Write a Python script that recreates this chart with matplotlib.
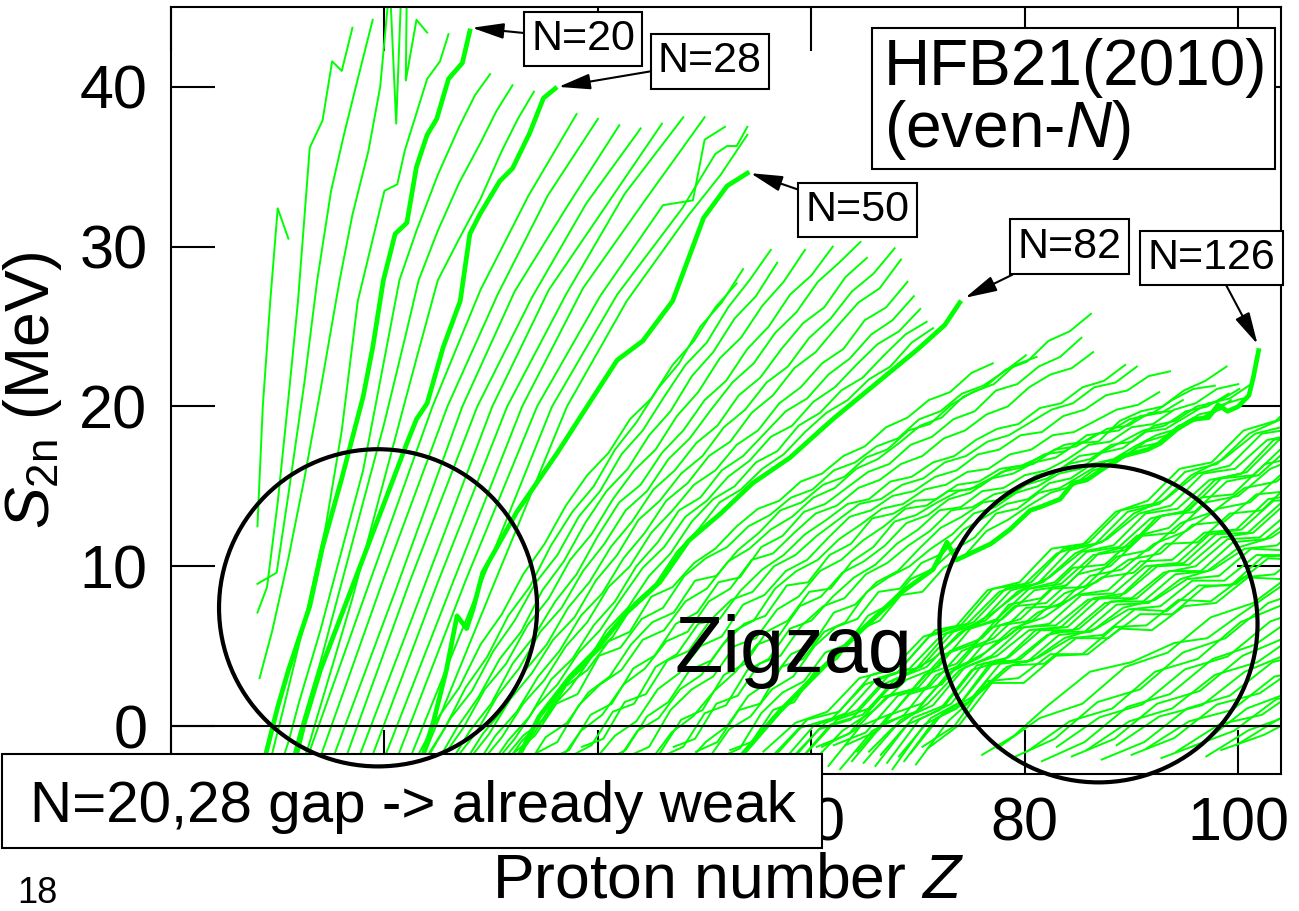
import matplotlib
matplotlib.use("Agg")
import matplotlib.pyplot as plt
from matplotlib.patches import Ellipse, Rectangle

plt.rcParams["font.family"] = ["Liberation Sans", "DejaVu Sans"]
plt.rcParams["mathtext.fontset"] = "custom"
plt.rcParams["mathtext.rm"] = "Liberation Sans"
plt.rcParams["mathtext.it"] = "Liberation Sans:italic"

# S2n (MeV) against Z along even-N isotone chains, HFB21 (2010) mass table.
# Light chains are kept as (Z, S2n) vertices.
chains_n10_18 = [
    [(8.1, 12.5), (8.6, 20.0), (9.3, 26.6), (10.0, 32.4), (11.0, 30.5)],
    [(8.1, 7.1), (9.0, 8.7), (10.0, 14.0), (11.0, 20.5), (11.9, 26.6), (13.0, 36.2),
     (14.2, 37.9), (15.1, 41.6), (16.0, 41.0), (17.0, 43.7)],
    [(8.1, 8.9), (9.9, 9.6), (11.0, 14.5), (12.5, 21.5), (13.7, 27.9), (15.0, 33.5),
     (16.2, 37.0), (17.5, 40.5), (18.9, 44.2)],
    [(8.3, 3.0), (9.5, 6.0), (11.0, 10.5), (12.5, 15.5), (14.0, 21.0), (15.8, 27.9),
     (17.0, 32.0), (18.5, 36.0), (19.6, 40.0), (20.5, 46.5), (21.1, 37.7), (21.6, 46.5),
     (22.1, 46.5), (22.0, 40.4), (23.0, 44.2), (24.0, 43.4)],
    [(9.0, -3.0), (10.5, 1.0), (12.5, 6.5), (14.5, 12.5), (16.0, 18.5), (17.5, 26.6),
     (20.0, 33.5), (21.2, 33.9), (21.9, 36.0), (24.0, 40.5), (25.2, 41.6), (26.0, 43.3)],
]

n20 = [(8.6, -2.5), (10.0, 1.2), (11.0, 3.5), (12.0, 5.5), (13.0, 7.5), (14.2, 11.2),
       (16.0, 15.5), (18.0, 20.6), (18.9, 23.7), (19.9, 27.9), (21.0, 30.8), (22.1, 31.5),
       (23.0, 35.0), (24.0, 37.0), (24.9, 38.0), (26.0, 40.5), (27.3, 41.5), (28.0, 43.5)]

chains_n22_26 = [
    [(10.0, -3.0), (11.0, -1.0), (12.0, 1.5), (14.0, 6.0), (16.0, 11.0), (18.0, 16.0),
     (20.0, 23.0), (21.4, 27.9), (23.0, 31.0), (25.0, 34.5), (27.0, 37.5), (28.5, 39.5),
     (29.9, 40.8)],
    [(11.0, -3.0), (12.0, -0.5), (14.0, 4.0), (16.0, 9.0), (18.0, 14.0), (20.0, 19.0),
     (22.0, 24.5), (23.2, 27.9), (25.0, 31.0), (27.0, 34.0), (29.0, 36.5), (30.5, 38.5),
     (32.0, 40.1)],
    [(12.0, -3.0), (13.0, -1.0), (15.0, 3.5), (17.0, 8.0), (19.0, 13.0), (21.0, 18.0),
     (23.0, 23.0), (25.0, 27.9), (27.0, 30.5), (29.0, 33.0), (31.0, 36.0), (32.5, 38.0),
     (34.0, 39.7)],
]

n28 = [(11.5, -2.5), (12.5, 0.2), (14.0, 3.5), (16.0, 7.0), (18.0, 10.5), (20.0, 14.0),
       (22.1, 17.7), (23.0, 19.2), (24.0, 20.2), (25.5, 23.7), (27.1, 26.6), (28.0, 30.8),
       (29.0, 32.1), (30.8, 34.1), (32.0, 34.9), (33.6, 37.1), (34.9, 39.3), (36.0, 39.9)]

chains_n30_48 = [
    [(12.5, -2.5), (18.5, 8.8), (24.5, 20.0), (29.0, 27.3), (33.5, 33.2), (38.0, 38.3)],
    [(13.7, -2.5), (19.8, 9.0), (25.9, 20.0), (30.6, 27.0), (35.3, 33.2), (40.0, 38.0)],
    [(14.9, -2.5), (21.1, 8.6), (27.3, 20.0), (32.2, 27.2), (37.1, 32.5), (42.0, 37.6)],
    [(16.1, -2.5), (22.4, 9.1), (28.7, 20.0), (33.8, 26.8), (38.9, 32.7), (44.0, 37.4)],
    [(17.3, -2.5), (23.7, 8.7), (30.1, 20.0), (35.4, 27.3), (40.7, 32.5), (46.0, 37.7)],
    [(18.5, -2.5), (25.0, 9.0), (31.5, 20.0), (37.0, 27.0), (42.5, 33.3), (48.0, 38.1)],
    [(19.7, -2.5), (26.3, 8.8), (32.9, 20.0), (38.6, 27.4), (44.3, 32.8), (50.0, 38.1)],
    [(20.9, -2.5), (27.6, 9.1), (34.3, 20.0), (40.2, 26.9), (46.1, 32.6), (48.9, 32.9),
     (50.0, 36.7), (51.9, 37.5)],
    [(22.1, -2.5), (28.9, 8.7), (35.7, 20.0), (41.8, 27.0), (47.9, 32.4), (51.0, 35.8),
     (52.1, 36.3), (53.0, 36.3), (54.0, 37.5)],
    [(23.3, -2.5), (30.2, 8.8), (37.1, 20.0), (42.7, 26.6), (48.4, 31.9), (51.5, 34.5),
     (54.0, 37.0)],
]

n50 = [(23.2, -2.7), (24.6, 0.3), (25.8, 3.5), (26.8, 6.9), (27.7, 6.1), (28.3, 7.3),
       (29.2, 9.6), (32.4, 13.4), (36.2, 17.1), (38.6, 19.6), (41.8, 22.9), (44.2, 24.1),
       (47.0, 26.6), (49.9, 31.8), (52.1, 33.8), (54.0, 34.6)]

n82 = [(32.5, -2.0), (34.5, 0.6), (37.4, 3.1), (39.6, 4.6), (42.7, 7.1), (45.8, 9.0),
       (48.5, 11.6), (51.5, 13.3), (54.5, 15.2), (58.0, 16.8), (62.0, 19.2), (66.0, 21.4),
       (70.0, 23.6), (72.5, 25.1), (73.9, 26.5)]

n126 = [(53.5, -1.8), (57.0, 0.9), (61.0, 3.6), (65.0, 6.2), (68.5, 8.4), (71.4, 9.8),
        (72.7, 11.5), (73.6, 10.4), (76.8, 11.4), (78.6, 12.3), (80.5, 13.5), (81.4, 13.7),
        (83.3, 14.2), (84.5, 15.2), (85.8, 15.4), (87.1, 16.0), (89.2, 16.9), (91.5, 17.3),
        (92.7, 17.7), (94.3, 18.6), (95.8, 19.2), (97.2, 19.3), (98.1, 20.1), (99.0, 19.7),
        (100.0, 20.0), (101.0, 20.7), (101.4, 21.8), (101.9, 23.5)]

# Denser chains: first Z, then S2n every `step` units of Z.
step_n52_80 = 2.0
chains_n52_80 = [
    (23.0, [-2.0, 0.5, 2.4, 5.1, 7.0, 9.5, 11.4, 13.8, 15.7, 17.1, 19.2, 20.5, 22.6, 24.1, 26.2, 27.7]),
    (23.6, [-2.3, -0.2, 2.4, 4.3, 6.9, 8.7, 11.3, 13.4, 15.0, 17.3, 19.0, 21.1, 22.7, 25.0, 26.5, 28.6]),
    (24.2, [-1.8, 0.5, 2.2, 4.7, 6.6, 9.0, 10.7, 13.1, 14.7, 17.0, 18.5, 20.6, 22.6, 24.0, 26.2, 27.9, 29.8]),
    (24.8, [-2.4, -0.1, 1.8, 4.2, 5.9, 8.5, 10.3, 12.7, 14.7, 16.1, 18.2, 19.7, 21.9, 23.4, 25.5, 26.9, 29.0]),
    (25.4, [-2.0, -0.1, 2.3, 3.9, 6.3, 8.0, 10.4, 12.0, 14.2, 16.0, 17.3, 19.4, 20.9, 23.0, 24.3, 26.3,
            27.8, 29.8]),
    (26.0, [-2.5, -0.3, 1.4, 3.9, 5.6, 7.8, 9.5, 11.9, 14.0, 15.1, 17.1, 18.5, 20.4, 21.6, 23.6, 25.0,
            27.0, 28.2, 30.0]),
    (26.6, [-2.1, -0.4, 1.9, 3.6, 5.9, 7.4, 9.7, 11.4, 13.5, 14.7, 16.7, 18.0, 19.8, 21.5, 22.7, 24.6,
            25.9, 27.8, 29.0, 30.3]),
    (27.2, [-2.6, -0.5, 1.1, 3.5, 5.1, 7.4, 9.0, 11.2, 12.8, 14.8, 16.0, 17.7, 18.8, 20.7, 21.8, 23.6,
            25.2, 26.2, 28.1, 29.3]),
    (27.8, [-2.2, -0.5, 1.7, 3.3, 5.4, 6.8, 9.1, 10.7, 12.9, 14.1, 15.8, 16.9, 18.7, 19.8, 21.5, 22.5,
            24.3, 25.5, 27.2, 28.3, 29.9]),
    (28.4, [-2.7, -0.6, 0.9, 3.1, 4.7, 6.9, 8.3, 10.5, 12.1, 14.1, 15.2, 16.9, 17.8, 19.6, 20.7, 22.4,
            23.4, 25.0, 26.5, 27.4, 29.2]),
    (29.0, [-2.3, -0.7, 1.4, 2.9, 5.0, 6.5, 8.7, 10.0, 12.1, 13.5, 15.1, 16.0, 17.6, 18.5, 20.2, 21.2,
            22.7, 23.6, 25.4, 26.2, 27.8]),
    (29.6, [-2.8, -0.9, 0.6, 2.9, 4.2, 6.3, 7.8, 10.0, 11.5, 13.5, 14.3, 16.0, 16.9, 18.3, 19.7, 20.5,
            22.0, 23.0, 24.5, 25.4, 26.9]),
    (30.2, [-2.4, -0.8, 1.2, 2.6, 4.6, 6.0, 8.0, 9.9, 11.2, 13.1, 14.1, 15.6, 16.6, 18.1, 18.8, 20.3,
            21.2, 22.6, 23.9, 24.7, 26.1]),
    (30.8, [-2.9, -1.0, 0.4, 2.5, 3.8, 6.0, 7.4, 9.4, 10.8, 12.8, 14.2, 15.0, 16.5, 17.2, 18.8, 19.6,
            21.0, 21.8, 23.2, 24.5, 25.3]),
    (31.4, [-2.5, -1.1, 1.0, 2.4, 4.3, 5.6, 7.7, 8.9, 10.9, 12.3, 14.0, 14.8, 16.1, 17.0, 18.4, 19.6,
            20.4, 21.7, 22.5, 24.0, 24.9]),
]

step_n84_124 = 2.0
chains_n84_124 = [
    (31.0, [-2.2, -0.6, 0.4, 2.5, 3.5, 5.3, 5.9, 8.1, 8.7, 10.2, 11.1, 12.5, 13.6, 14.1, 15.3, 15.8,
            16.9, 17.5, 18.7, 19.3, 20.4, 20.9, 22.1, 22.7]),
    (32.1, [-1.7, -0.6, 1.4, 2.0, 4.4, 4.9, 6.7, 7.4, 9.4, 10.5, 11.2, 12.5, 13.2, 14.3, 14.8, 16.0,
            16.5, 17.5, 18.0, 19.2, 19.7, 20.8, 21.3, 22.2, 23.2]),
    (33.1, [-2.8, -0.7, 0.2, 2.1, 3.1, 5.1, 6.5, 7.1, 9.1, 9.4, 11.0, 12.1, 13.5, 14.0, 15.1, 15.6,
            16.8, 17.3, 18.5, 18.9, 20.1, 20.9, 21.4, 22.6, 23.1]),
    (34.2, [-1.7, -1.0, 1.3, 2.6, 3.5, 5.4, 6.0, 7.8, 8.6, 10.3, 11.1, 12.3, 13.1, 14.3, 14.9, 16.1,
            16.7, 17.7, 18.8, 19.3, 20.6, 21.2, 22.3, 22.8, 24.1, 24.7, 25.8]),
    (35.3, [-2.1, -1.5, 0.7, 1.4, 3.6, 4.4, 6.4, 7.1, 9.0, 9.3, 11.2, 11.9, 13.4, 13.9, 14.9, 15.9,
            16.4, 17.6, 18.1, 19.2, 19.7, 21.0, 21.4, 22.5, 23.1, 24.3]),
    (36.4, [-2.2, -0.3, 0.7, 2.6, 3.6, 5.3, 5.9, 7.8, 8.6, 10.4, 10.8, 12.1, 13.3, 13.8, 14.9, 15.4,
            16.4, 16.9, 18.0, 18.5, 19.5, 20.0, 21.2, 22.0, 22.4, 23.4]),
    (37.4, [-1.9, -1.2, 0.9, 1.4, 3.7, 4.5, 6.4, 6.7, 8.5, 9.8, 10.7, 12.0, 12.9, 13.9, 14.2, 15.3,
            15.6, 16.5, 16.9, 17.9, 18.6, 18.9, 19.9, 20.2, 21.2, 21.6, 22.6]),
    (38.5, [-1.3, -0.8, 1.5, 2.0, 4.1, 4.7, 6.6, 7.9, 8.4, 10.0, 10.7, 11.9, 12.9, 13.9, 14.2, 15.1,
            15.5, 16.5, 16.9, 17.8, 18.2, 19.0, 19.8, 20.2, 21.2, 21.5, 22.5]),
    (39.6, [-2.2, -0.6, 0.3, 2.3, 3.3, 5.0, 5.6, 7.6, 8.2, 9.7, 10.4, 11.8, 13.1, 13.5, 14.4, 14.7,
            15.6, 16.0, 17.0, 17.3, 18.2, 18.4, 19.4, 19.8, 20.7, 21.0, 21.9, 22.2]),
    (40.6, [-2.2, -1.5, 0.6, 1.5, 3.5, 4.1, 5.9, 6.6, 8.6, 9.7, 10.4, 11.7, 12.6, 13.6, 13.9, 14.8,
            15.1, 15.9, 16.1, 17.0, 17.3, 18.2, 18.4, 19.1, 19.8, 20.1, 20.9]),
    (41.7, [-2.3, -0.3, 0.5, 2.3, 3.2, 5.1, 6.4, 6.9, 8.8, 9.0, 10.7, 11.4, 13.0, 13.3, 14.1, 14.2,
            15.1, 15.3, 16.1, 16.3, 16.9, 17.6, 17.8, 18.6, 18.8, 19.6, 19.7]),
    (42.8, [-1.9, -1.3, 1.0, 2.3, 3.1, 5.0, 5.5, 7.3, 8.1, 9.7, 10.4, 11.6, 12.5, 13.6, 13.8, 14.7,
            14.8, 15.5, 16.2, 16.4, 17.3, 17.5, 18.3, 18.5, 19.4, 19.6, 20.4]),
    (43.8, [-2.3, -1.7, 0.4, 1.0, 3.2, 3.9, 5.9, 6.6, 8.4, 8.6, 10.3, 11.2, 12.8, 13.2, 14.0, 14.7,
            15.0, 15.9, 16.2, 17.0, 17.2, 18.2, 18.4, 19.2, 19.5, 20.4, 21.1, 21.3]),
    (44.9, [-2.2, -0.4, 0.6, 2.2, 3.4, 5.1, 5.6, 7.5, 8.1, 9.6, 10.3, 11.3, 12.7, 13.2, 14.2, 14.6,
            15.5, 15.8, 16.5, 16.8, 17.7, 17.8, 19.1, 19.7, 20.0, 21.0, 21.6, 22.5]),
    (46.0, [-1.9, -1.3, 0.8, 1.3, 3.5, 4.2, 6.1, 6.6, 8.1, 9.3, 10.1, 11.4, 12.3, 13.5, 13.7, 14.7,
            14.9, 15.7, 16.0, 16.7, 17.6, 17.8, 18.7, 18.9, 19.8, 20.2, 21.1, 21.4]),
    (47.1, [-1.3, -0.8, 1.4, 1.9, 3.9, 4.4, 6.3, 7.5, 8.0, 9.5, 10.2, 11.3, 12.2, 13.5, 13.7, 14.5,
            14.8, 15.7, 16.0, 16.9, 17.1, 17.8, 18.5, 18.8, 19.7, 20.0, 20.8]),
    (48.1, [-2.5, -1.0, 0.0, 1.9, 2.8, 4.5, 5.1, 7.1, 7.6, 9.0, 9.7, 11.1, 12.4, 13.1, 14.0, 14.2,
            15.1, 15.5, 16.4, 16.7, 17.6, 17.8, 18.8, 19.1, 20.0, 20.3, 21.1]),
    (49.2, [-1.6, -1.0, 1.0, 1.4, 3.7, 4.2, 5.9, 6.5, 8.4, 9.3, 10.0, 11.1, 12.0, 13.3, 13.7, 14.6,
            15.0, 15.8, 16.1, 17.1, 17.4, 18.4, 18.6, 19.4, 20.2, 20.5, 21.4]),
    (50.3, [-2.1, -0.2, 0.6, 2.3, 3.1, 5.0, 6.2, 6.7, 8.4, 8.6, 10.2, 10.8, 12.3, 13.1, 13.9, 14.2,
            15.2, 15.5, 16.4, 16.7, 17.5, 18.2, 18.6, 19.5, 19.8]),
    (51.3, [-2.0, -1.4, 0.8, 2.1, 2.8, 4.6, 5.1, 6.9, 7.6, 9.2, 9.8, 11.0, 11.8, 13.3, 13.6, 14.6,
            14.9, 15.7, 16.5, 16.8, 17.8, 18.2, 19.1, 19.4, 20.4]),
    (52.4, [-1.5, -1.0, 1.0, 1.5, 3.5, 4.2, 6.0, 6.6, 8.2, 8.4, 9.9, 10.7, 12.2, 12.9, 13.8, 14.6,
            15.0, 16.0, 16.4, 17.4, 17.7, 18.8, 19.2, 20.1, 20.5]),
]

step_n128_184 = 3.0
chains_n128_184 = [
    (55.5, [-1.6, 0.2, 0.9, 3.0, 3.5, 5.6, 6.2, 8.5, 9.0, 11.1, 11.4, 13.4, 14.1, 16.1, 16.5, 18.5, 19.1, 20.9]),
    (56.0, [-2.3, -0.1, 0.5, 2.6, 3.3, 5.6, 6.3, 8.6, 8.9, 10.8, 11.5, 13.5, 13.9, 15.9, 16.4, 18.3, 19.2, 20.8]),
    (56.6, [-1.7, 0.4, 0.9, 3.2, 3.8, 6.0, 6.4, 8.4, 9.0, 11.1, 11.4, 13.4, 13.9, 15.7, 16.7, 18.3, 18.8]),
    (57.2, [-2.3, 0.0, 0.8, 3.0, 3.6, 5.7, 6.5, 8.6, 8.9, 11.0, 11.5, 13.3, 14.2, 15.8, 16.3, 18.3, 18.6]),
    (57.7, [-2.5, -0.2, 0.4, 2.6, 3.5, 5.8, 6.4, 8.5, 9.0, 10.8, 11.7, 13.3, 13.8, 15.8, 16.1, 17.9, 18.3]),
    (58.3, [-1.9, 0.2, 1.0, 3.2, 3.7, 5.9, 6.6, 8.4, 9.3, 10.9, 11.3, 13.3, 13.6, 15.4, 15.8, 17.9, 18.4]),
    (58.8, [-2.2, 0.1, 0.7, 2.9, 3.7, 5.8, 7.0, 8.5, 9.0, 10.9, 11.2, 13.0, 13.4, 15.4, 15.9, 17.9, 18.1]),
    (59.4, [-1.8, 0.4, 1.1, 3.1, 4.2, 6.0, 6.7, 8.6, 8.9, 10.7, 11.0, 13.1, 13.5, 15.5, 15.7, 17.6]),
    (59.9, [-2.4, -0.3, 1.0, 2.9, 3.7, 6.1, 6.7, 8.5, 8.8, 10.8, 11.3, 13.2, 13.4, 15.3, 15.7, 17.5]),
    (60.5, [-1.3, -0.5, 1.8, 2.3, 4.5, 5.2, 7.6, 8.0, 9.9, 10.1, 11.9, 12.4, 14.3, 14.5, 16.4, 16.8]),
    (61.0, [-1.3, -0.3, 1.8, 2.4, 4.7, 5.5, 7.5, 7.7, 9.5, 10.0, 11.9, 12.1, 14.0, 14.4, 16.1, 16.9]),
    (61.6, [-2.5, 0.0, 0.8, 3.2, 3.9, 6.1, 6.7, 8.6, 8.7, 10.6, 11.0, 12.7, 13.4, 14.9, 15.3, 17.1]),
    (62.1, [-1.2, -0.4, 1.9, 2.5, 4.7, 5.5, 7.4, 7.5, 9.4, 9.8, 11.4, 12.2, 13.6, 14.0, 15.8, 16.0]),
    (62.7, [-2.7, -0.3, 0.7, 3.2, 4.0, 6.3, 6.6, 8.3, 9.0, 10.4, 10.8, 12.6, 12.8, 14.5, 14.7]),
    (63.2, [-1.2, -0.3, 2.0, 2.6, 4.9, 5.5, 7.1, 7.9, 9.3, 9.6, 11.4, 11.5, 13.3, 13.5, 15.4]),
    (63.8, [-2.2, 0.2, 0.9, 3.3, 4.3, 6.1, 6.8, 8.2, 8.5, 10.3, 10.4, 12.1, 12.3, 14.2, 14.5]),
    (64.3, [-1.6, 0.7, 1.4, 3.5, 4.6, 6.1, 6.4, 8.2, 8.3, 10.0, 10.2, 12.0, 12.3, 14.1, 14.2]),
    (64.9, [-2.3, 0.0, 1.4, 3.5, 4.4, 6.2, 6.3, 7.9, 8.1, 10.0, 10.2, 12.0, 12.1, 13.9, 14.1]),
    (65.4, [-1.6, 0.4, 1.3, 3.7, 4.4, 6.0, 6.2, 8.0, 8.3, 10.0, 10.1, 11.8, 12.1, 13.9]),
    (66.0, [-2.5, 0.1, 1.0, 3.5, 4.1, 6.0, 6.2, 8.0, 8.0, 9.6, 10.0, 11.7, 11.8, 13.5]),
    (66.5, [-1.8, 0.5, 1.3, 3.8, 4.3, 6.0, 6.0, 7.7, 8.0, 9.7, 9.7, 11.5, 11.7, 13.2]),
    (67.1, [-2.3, 0.4, 1.4, 3.9, 4.1, 5.7, 6.1, 7.8, 7.8, 9.5, 9.7, 11.2, 11.8, 13.1]),
    (67.6, [-2.7, 0.1, 1.1, 3.8, 4.2, 5.9, 5.9, 7.6, 7.7, 9.2, 9.8, 11.1, 11.3, 13.0]),
    (68.2, [-1.9, 0.5, 1.6, 4.1, 4.0, 5.7, 5.9, 7.4, 7.9, 9.2, 9.4, 11.1, 11.0]),
    (68.7, [-2.2, 0.5, 1.5, 3.9, 4.1, 5.5, 6.1, 7.3, 7.5, 9.1, 9.1, 10.7, 10.7]),
    (69.3, [-1.7, 0.8, 1.9, 3.7, 4.3, 5.5, 5.7, 7.3, 7.2, 8.8, 8.8, 10.6, 10.7]),
    (69.8, [-2.4, 0.3, 2.1, 3.8, 3.9, 5.5, 5.5, 7.0, 7.0, 8.7, 8.9, 10.5, 10.4]),
    (70.4, [-1.3, 0.0, 2.8, 3.0, 4.5, 4.5, 6.2, 6.3, 7.9, 7.8, 9.3, 9.5, 11.1]),
    (70.9, [-1.4, 0.1, 2.7, 2.7, 4.4, 4.5, 6.1, 6.0, 7.5, 7.7, 9.3, 9.2, 10.7]),
]

chains_n186_220 = [
    [(76.0, -1.8), (79.0, -0.6), (82.0, 1.2), (86.1, 3.4), (90.0, 4.0), (94.0, 5.2),
     (97.1, 5.5), (100.0, 6.9), (105.0, 9.2)],
    [(77.4, -1.4), (81.4, 0.5), (85.4, 1.4), (89.4, 3.7), (93.4, 4.6), (97.4, 6.8),
     (101.4, 7.7), (105.4, 9.7)],
    [(78.8, -2.0), (82.8, -0.8), (86.8, 1.5), (90.8, 2.3), (94.8, 4.6), (98.8, 5.5),
     (102.8, 7.7), (105.0, 8.2)],
    [(80.2, -1.6), (84.2, 0.3), (88.2, 1.1), (92.2, 3.4), (96.2, 4.2), (100.2, 6.5),
     (104.2, 7.6), (105.0, 7.9)],
    [(81.6, -2.2), (85.6, -1.0), (89.6, 1.2), (93.6, 2.0), (97.6, 4.2), (101.6, 5.1), (105.0, 6.7)],
    [(83.0, -1.3), (87.0, 0.55), (91.0, 1.35), (95.0, 3.55), (99.0, 4.35), (103.0, 6.55), (105.0, 7.0)],
    [(84.4, -1.9), (88.4, -0.8), (92.4, 1.4), (96.4, 2.2), (100.4, 4.4), (105.0, 5.7)],
    [(85.8, -1.5), (89.8, 0.3), (93.8, 1.1), (97.8, 3.2), (101.8, 4.0), (105.0, 5.5)],
    [(87.2, -2.1), (91.2, -1.0), (95.2, 1.1), (99.2, 1.9), (103.2, 4.0), (105.0, 4.3)],
    [(88.6, -1.2), (92.6, 0.6), (96.6, 1.3), (100.6, 3.4), (104.6, 4.5)],
    [(90.0, -1.8), (94.0, -0.75), (98.0, 1.35), (102.0, 2.05), (105.0, 3.45)],
    [(91.4, -1.4), (95.4, 0.3), (99.4, 1.0), (103.4, 3.1), (105.0, 3.3)],
    [(92.8, -2.0), (96.8, -1.0), (100.8, 1.1), (105.0, 2.15)],
    [(94.2, -1.6), (98.2, 0.1), (102.2, 0.7), (105.0, 2.0)],
    [(95.6, -1.3), (99.6, -0.3), (103.6, 1.7), (105.0, 1.8)],
    [(97.0, -1.9), (101.0, -0.25), (105.0, 0.7)],
    [(98.4, -1.5), (102.4, -0.55), (105.0, 0.35)],
    [(99.8, -1.2), (103.8, 0.45), (105.0, 0.6)],
]

magic_chains = [n20, n28, n50, n82, n126]

# magic-number labels: (text, tip of arrow in data, label centre in data)
magic_labels = [
    ("N=20", (28.2, 43.7), (38.6, 43.0)),
    ("N=28", (36.3, 40.0), (50.5, 41.6)),
    ("N=50", (54.3, 34.6), (64.3, 32.3)),
    ("N=82", (74.4, 26.8), (84.2, 30.0)),
    ("N=126", (101.8, 23.9), (97.5, 29.3)),
]

GREEN = "#00ff00"

fig = plt.figure(figsize=(12.99, 9.11), dpi=100)
ax = fig.add_axes([171 / 1299, 137 / 911, 1110 / 1299, 767 / 911])

vertex_chains = chains_n10_18 + chains_n22_26 + chains_n30_48 + chains_n186_220
for chain in vertex_chains:
    z, s = zip(*chain)
    ax.plot(z, s, color=GREEN, lw=1.4, zorder=2)

for step, band in [(step_n52_80, chains_n52_80), (step_n84_124, chains_n84_124),
                   (step_n128_184, chains_n128_184)]:
    for z0, s in band:
        z = [z0 + step * k for k in range(len(s))]
        ax.plot(z, s, color=GREEN, lw=1.4, zorder=2)

for chain in magic_chains:
    z, s = zip(*chain)
    ax.plot(z, s, color=GREEN, lw=3.4, zorder=2.2)

ax.axhline(0, color="k", lw=1.5, zorder=2.4)

ax.set_xlim(0, 104)
ax.set_ylim(-3, 45)
ax.set_xticks([0, 20, 40, 60, 80, 100])
# 0, 20 and 40 sit under the note box
ax.set_xticklabels(["", "", "", "60", "80", "100"])
ax.set_yticks([0, 10, 20, 30, 40])
ax.tick_params(direction="in", length=31.5, width=1.5, top=True, right=True,
               labelsize=44)
ax.tick_params(axis="x", pad=16)
ax.tick_params(axis="y", pad=17)
for sp in ax.spines.values():
    sp.set_linewidth(1.5)

# circled regions
for cz, cs in [(19.4, 7.4), (86.9, 6.4)]:
    ax.add_patch(Ellipse((cz, cs), 29.8, 19.85, fill=False, ec="k", lw=3,
                         clip_on=False, zorder=5))

ax.text(47.2, 3.4, "Zigzag", fontsize=57, ha="left", va="baseline", zorder=6)

for text, tip, centre in magic_labels:
    ax.annotate(text, xy=tip, xytext=centre, ha="center", va="center", fontsize=31,
                bbox=dict(boxstyle="square,pad=0.17", fc="white", ec="k", lw=1.5),
                arrowprops=dict(arrowstyle="-|>,head_length=0.65,head_width=0.16",
                                mutation_scale=30, color="k", lw=1.5,
                                shrinkA=0, shrinkB=0),
                zorder=6)

# model box
ax.add_patch(Rectangle((872 / 1299, 1 - 169 / 911), 403 / 1299, 141 / 911,
                       transform=fig.transFigure, fc="white", ec="k", lw=1.5,
                       clip_on=False, zorder=4))
ax.text(884 / 1299, 1 - 85 / 911, "HFB21(2010)", transform=fig.transFigure,
        fontsize=46, ha="left", va="baseline", zorder=4.5)
ax.text(884 / 1299, 1 - 147 / 911, "(even-$N$)", transform=fig.transFigure,
        fontsize=46, ha="left", va="baseline", zorder=4.5)

# note box over the lower-left corner
ax.add_patch(Rectangle((2 / 1299, 1 - 848 / 911), 820 / 1299, 94 / 911,
                       transform=fig.transFigure, fc="white", ec="k", lw=1.5,
                       clip_on=False, zorder=4))
ax.text(30 / 1299, 1 - 822 / 911, "N=20,28 gap -> already weak",
        transform=fig.transFigure, fontsize=42, ha="left", va="baseline",
        zorder=4.5, clip_on=False)

fig.text(728 / 1299, 1 - 898 / 911, "Proton number $Z$", fontsize=45,
         ha="center", va="baseline")
fig.text(33 / 1299, 1 - 390 / 911, r"$S_{\mathrm{2n}}$ (MeV)", fontsize=45,
         rotation=90, ha="center", va="center")
fig.text(17 / 1299, 1 - 903 / 911, "18", fontsize=26, ha="left", va="baseline")

fig.savefig("out.png", dpi=100)
